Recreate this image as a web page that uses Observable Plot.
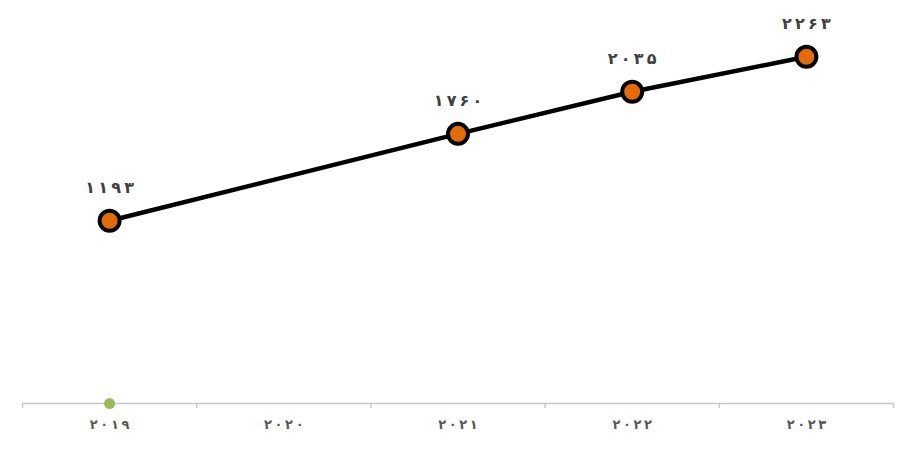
<!DOCTYPE html>
<html>
<head>
<meta charset="utf-8">
<script src="https://cdn.jsdelivr.net/npm/d3@7"></script>
<script src="https://cdn.jsdelivr.net/npm/@observablehq/plot@0.6"></script>
<style>
  html, body { margin: 0; padding: 0; background: #ffffff; }
  #chart svg { display: block; }
</style>
</head>
<body>
<div id="chart"></div>
<script>
const years = ["۲۰۱۹", "۲۰۲۰", "۲۰۲۱", "۲۰۲۲", "۲۰۲۳"];
const values = [1193, null, 1760, 2035, 2263];
const secondValues = [0, null, null, null, null];

const toFa = s => String(s).replace(/[0-9]/g, d => "۰۱۲۳۴۵۶۷۸۹"[+d]);
const spaced = (s, sep) => Array.from(String(s)).join(sep);

const rows = years.map((y, i) => ({i: i + 0.5, year: y, v: values[i], s: secondValues[i]}));
const main = rows.filter(d => d.v != null);
const second = rows.filter(d => d.s != null);

const chart = Plot.plot({
  width: 917,
  height: 450,
  marginLeft: 22,
  marginRight: 24,
  marginTop: 20,
  marginBottom: 47,
  style: {fontFamily: "DejaVu Sans, sans-serif", background: "#ffffff"},
  x: {domain: [0, years.length], axis: null, label: null},
  y: {domain: [0, 2500], axis: null},
  marks: [
    Plot.ruleY([0], {stroke: "#c8c8c8", strokeWidth: 1.5}),
    Plot.axisX({ticks: d3.range(0, years.length + 1), tickFormat: () => "", tickSize: 5, stroke: "#c8c8c8", strokeWidth: 1.5, label: null}),
    Plot.text(rows, {x: "i", y: 0, dy: 21, text: d => spaced(d.year, "\u2009"), fill: "#595959", fontSize: 13, fontWeight: "bold"}),
    Plot.line(main, {x: "i", y: "v", stroke: "#000000", strokeWidth: 4.5}),
    Plot.dot(second, {x: "i", y: "s", r: 5.5, fill: "#9bbb59", stroke: "none"}),
    Plot.dot(main, {x: "i", y: "v", r: 10, fill: "#e36c09", stroke: "#000000", strokeWidth: 4}),
    Plot.text(main, {x: "i", y: "v", dy: -33, text: d => spaced(toFa(d.v), "\u2009"), fill: "#404040", fontSize: 16, fontWeight: "bold"})
  ]
});
document.getElementById("chart").appendChild(chart);
</script>
</body>
</html>
